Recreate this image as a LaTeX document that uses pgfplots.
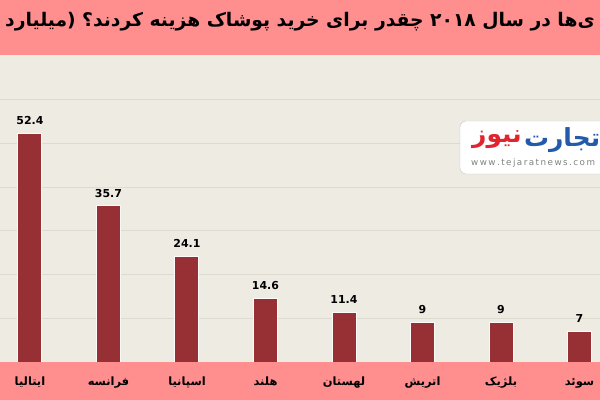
\documentclass[border=0pt]{standalone}
\usepackage{pgfplots}
\pgfplotsset{compat=1.18}
\usepackage{fontspec}
\setmainfont{DejaVu Sans}
\newfontfamily\arabicfont[Script=Arabic]{DejaVu Sans}
\TeXXeTstate=1
\definecolor{band}{RGB}{255,143,143}
\definecolor{bg}{RGB}{238,235,226}
\definecolor{gridc}{RGB}{221,218,208}
\definecolor{barc}{RGB}{150,48,52}
\definecolor{logoblue}{RGB}{35,90,170}
\definecolor{logored}{RGB}{226,36,46}
\begin{document}
\begin{tikzpicture}
\useasboundingbox (0,0) rectangle (600bp,400bp);
\clip (0,0) rectangle (600bp,400bp);
\fill[band] (0,0) rectangle (600bp,400bp);
\begin{axis}[
  at={(0,38bp)}, anchor=south west,
  scale only axis, width=600bp, height=307bp,
  xmin=-0.382, xmax=7.261, ymin=0, ymax=70.25,
  axis background/.style={fill=bg},
  axis line style={draw=none},
  ybar, bar width=24bp,
  ytick={10,20,...,60}, yticklabels={},
  ymajorgrids, grid style={gridc, line width=0.8bp},
  major tick length=0,
  xtick={0,...,7},
  xticklabels={{\beginR ایتالیا\endR},{\beginR فرانسه\endR},{\beginR اسپانیا\endR},{\beginR هلند\endR},{\beginR لهستان\endR},{\beginR اتریش\endR},{\beginR بلژیک\endR},{\beginR سوئد\endR}},
  xticklabel style={font=\arabicfont\bfseries\fontsize{11.5}{13}\selectfont, text height=9bp, text depth=3bp, yshift=-11bp},
  /pgf/number format/assume math mode=true,
  nodes near coords,
  every node near coord/.append style={font=\bfseries\fontsize{11}{12}\selectfont, text=black, yshift=5bp},
]
\addplot[fill=barc, draw=white!80!bg, line width=1bp] coordinates {(0,52.4) (1,35.7) (2,24.1) (3,14.6) (4,11.4) (5,9) (6,9) (7,7)};
\end{axis}
\node[font=\arabicfont\bfseries\fontsize{18.8}{22}\selectfont, text=black] at (300bp,378bp) {\beginR ی‌ها در سال ۲۰۱۸ چقدر برای خرید پوشاک هزینه کردند؟ (میلیارد\endR};
\draw[gray!45, fill=white, rounded corners=6bp] (460bp,226bp) rectangle (640bp,279bp);
\node[anchor=west, inner sep=0, font=\arabicfont\bfseries\fontsize{25}{28}\selectfont, text=logored] (n1) at (472bp,260bp) {\beginR نیوز\endR};
\node[anchor=west, inner sep=0, font=\arabicfont\bfseries\fontsize{25}{28}\selectfont, text=logoblue] at ([xshift=2bp]n1.east) {\beginR تجارت\endR};
\node[anchor=west, inner sep=0, font=\fontsize{8.8}{10}\selectfont, text=gray] at (471bp,237bp) {w\,w\,w\,.\,t\,e\,j\,a\,r\,a\,t\,n\,e\,w\,s\,.\,c\,o\,m};
\end{tikzpicture}
\end{document}
